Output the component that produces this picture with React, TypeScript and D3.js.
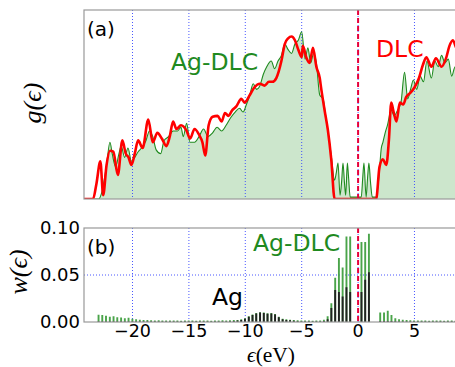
import React from "react";
import * as d3 from "d3";

// ---------- data ----------
// DOS g(eps), DLC (red)
const dlcE = [-24.3, -23.5, -23.2, -22.85, -22.6, -22.3, -22.0, -21.7, -21.3, -20.9, -20.6, -20.35, -20.1, -19.8, -19.5, -19.1, -18.6, -18.2, -17.8, -17.4, -17.0, -16.7, -16.4, -16.1, -15.7, -15.2, -14.9, -14.5, -14.1, -13.8, -13.55, -13.25, -12.9, -12.45, -12.1, -11.8, -11.5, -11.15, -10.8, -10.35, -10.06, -9.6, -9.2, -8.7, -8.3, -7.9, -7.6, -7.25, -6.8, -6.5, -6.2, -5.9, -5.6, -5.3, -5.0, -4.9, -4.6, -4.3, -4.0, -3.7, -3.4, -3.26, -2.97, -2.68, -2.38, -2.08, 1.6, 1.9, 2.2, 2.5, 2.73, 2.94, 3.15, 3.4, 3.7, 4.0, 4.27, 4.6, 5.0, 5.4, 5.75, 6.05, 6.5, 6.9, 7.4, 7.8, 8.1, 8.4, 8.7, 9.0];
const dlcG = [0, 0, 0.08, 0.2, 0.02, 0.18, 0.255, 0.25, 0.127, 0.31, 0.24, 0.22, 0.18, 0.24, 0.31, 0.27, 0.42, 0.3, 0.35, 0.32, 0.28, 0.33, 0.41, 0.37, 0.39, 0.36, 0.32, 0.37, 0.34, 0.3, 0.23, 0.39, 0.435, 0.44, 0.41, 0.455, 0.44, 0.47, 0.49, 0.53, 0.51, 0.55, 0.59, 0.61, 0.6, 0.62, 0.62, 0.64, 0.73, 0.82, 0.85, 0.86, 0.84, 0.79, 0.75, 0.81, 0.75, 0.72, 0.8, 0.7, 0.64, 0.58, 0.47, 0.365, 0.21, 0, 0, 0.17, 0.21, 0.18, 0.31, 0.51, 0.46, 0.41, 0.51, 0.5, 0.54, 0.56, 0.59, 0.64, 0.71, 0.75, 0.7, 0.745, 0.7, 0.745, 0.81, 0.84, 0.8, 0.78];

// DOS g(eps), Ag-DLC (green)
const agdlcE = [-24.3, -23.0, -22.7, -22.3, -22.0, -21.8, -21.5, -21.2, -21.0, -20.7, -20.4, -20.1, -19.8, -19.5, -19.2, -18.8, -18.5, -18.2, -17.9, -17.5, -17.2, -16.8, -16.4, -16.0, -15.7, -15.5, -15.2, -14.9, -14.5, -14.1, -13.7, -13.3, -12.9, -12.5, -12.1, -11.7, -11.3, -10.9, -10.5, -10.2, -9.9, -9.6, -9.3, -9.0, -8.7, -8.4, -8.1, -7.7, -7.4, -7.1, -6.8, -6.5, -6.2, -5.9, -5.6, -5.3, -5.0, -4.7, -4.45, -4.2, -3.95, -3.7, -3.4, -3.1, -2.9, -2.68, -2.4, -2.08, -1.93, -1.78, -1.6, -1.45, -1.34, -1.2, -1.1, -0.95, -0.85, -0.7, 0.28, 0.42, 0.52, 0.71, 0.85, 0.96, 1.1, 1.26, 1.6, 1.85, 2.06, 2.2, 2.4, 2.6, 2.94, 3.2, 3.5, 3.8, 4.12, 4.4, 4.65, 4.9, 5.2, 5.5, 5.8, 6.1, 6.5, 6.8, 7.1, 7.4, 7.7, 8.0, 8.3, 8.6, 9.0];
const agdlcG = [0, 0, 0.04, 0.18, 0.3, 0.24, 0.17, 0.24, 0.28, 0.22, 0.27, 0.2, 0.22, 0.25, 0.27, 0.31, 0.36, 0.33, 0.26, 0.24, 0.31, 0.33, 0.36, 0.36, 0.38, 0.33, 0.4, 0.3, 0.3, 0.33, 0.37, 0.33, 0.35, 0.38, 0.36, 0.39, 0.43, 0.46, 0.48, 0.46, 0.5, 0.55, 0.61, 0.58, 0.6, 0.66, 0.7, 0.73, 0.69, 0.73, 0.76, 0.82, 0.79, 0.77, 0.82, 0.84, 0.885, 0.74, 0.8, 0.72, 0.77, 0.72, 0.55, 0.53, 0.45, 0.365, 0.24, 0.1, 0.14, 0.19, 0.02, 0.1, 0.19, 0.08, 0.02, 0.19, 0.12, 0.01, 0.01, 0.12, 0.19, 0.01, 0.12, 0.19, 0.09, 0.01, 0.01, 0.12, 0.27, 0.3, 0.35, 0.39, 0.47, 0.44, 0.47, 0.51, 0.67, 0.53, 0.58, 0.63, 0.58, 0.65, 0.62, 0.73, 0.64, 0.73, 0.7, 0.76, 0.72, 0.74, 0.65, 0.7, 0.68];

// weights w(eps): bar energies, Ag-DLC (green) and Ag (black)
const barE = [-23.01, -22.68, -22.35, -22.01, -21.68, -21.35, -21.01, -20.68, -20.35, -20.01, -19.68, -19.35, -19.02, -18.68, -18.35, -18.02, -17.68, -17.35, -17.02, -16.68, -16.35, -16.02, -15.69, -15.35, -15.02, -14.69, -14.35, -14.02, -13.69, -13.35, -13.02, -12.69, -12.36, -12.02, -11.69, -11.36, -11.02, -10.69, -10.36, -10.03, -9.69, -9.36, -9.03, -8.69, -8.36, -8.03, -7.69, -7.36, -7.03, -6.69, -6.36, -6.03, -5.7, -5.36, -5.03, -4.7, -4.36, -4.03, -3.7, -3.36, -3.03, -2.7, -2.37, -2.03, -1.7, -1.37, -1.03, -0.7, 0.3, 0.63, 0.96, 1.96, 2.3, 2.63, 2.96, 3.3, 3.63, 3.96, 4.3, 4.63, 4.96, 5.3, 5.63, 5.96, 6.3, 6.63, 6.96, 7.3, 7.63, 7.96, 8.3, 8.63];
const wAgDLC = [0.0078, 0.0074, 0.0067, 0.0057, 0.0062, 0.005, 0.0048, 0.004, 0.0045, 0.0035, 0.003, 0.0025, 0.0022, 0.002, 0.0018, 0.0015, 0.0018, 0.0015, 0.0016, 0.0015, 0.0017, 0.0015, 0.0014, 0.0015, 0.0016, 0.0015, 0.0014, 0.0015, 0.0016, 0.0015, 0.0014, 0.0016, 0.0017, 0.0018, 0.0016, 0.0018, 0.002, 0.0022, 0.003, 0.004, 0.006, 0.008, 0.0095, 0.0105, 0.01, 0.0092, 0.0095, 0.0085, 0.0055, 0.0035, 0.0028, 0.0025, 0.0022, 0.0018, 0.0015, 0.0016, 0.0015, 0.0014, 0.0015, 0.0015, 0.0025, 0.006, 0.02, 0.047, 0.068, 0.058, 0.091, 0.091, 0.085, 0.085, 0.094, 0.01, 0.01, 0.012, 0.0075, 0.004, 0.003, 0.0025, 0.002, 0.0018, 0.0016, 0.0015, 0.0016, 0.0015, 0.0014, 0.0015, 0.0016, 0.0015, 0.0014, 0.0015, 0.0015, 0.0014];
const wAg = [0.0005, 0.0005, 0.0005, 0.0005, 0.0005, 0.0005, 0.0005, 0.0005, 0.0005, 0.0005, 0.0005, 0.0005, 0.0005, 0.0005, 0.0005, 0.0005, 0.0005, 0.0005, 0.0005, 0.0005, 0.0005, 0.0005, 0.0005, 0.0005, 0.0005, 0.0005, 0.0005, 0.0005, 0.0005, 0.0005, 0.0005, 0.0005, 0.0005, 0.0006, 0.0006, 0.0008, 0.001, 0.0015, 0.002, 0.0035, 0.0055, 0.0075, 0.009, 0.01, 0.0095, 0.0088, 0.009, 0.008, 0.005, 0.003, 0.0022, 0.0018, 0.0012, 0.0008, 0.0005, 0.0005, 0.0005, 0.0005, 0.0005, 0.0005, 0.001, 0.003, 0.015, 0.034, 0.032, 0.027, 0.037, 0.032, 0.032, 0.045, 0.053, 0.001, 0.001, 0.001, 0.001, 0.0008, 0.0005, 0.0005, 0.0005, 0.0005, 0.0005, 0.0005, 0.0005, 0.0005, 0.0005, 0.0005, 0.0005, 0.0005, 0.0005, 0.0005, 0.0005, 0.0005];

const xTicks = [-20, -15, -10, -5, 0, 5];
const wTicks = [0.0, 0.05, 0.1];
const wTickLabels = ["0.00", "0.05", "0.10"];

// ---------- layout ----------
const W = 455, H = 367;
const left = 84;
const right = 459.6;
const topA = 10, botA = 199;
const topB = 228, botB = 322;

const GREEN = "#1f8a1f";
const RED = "#ff0000";
const GRID = "#3344ff";

export default function App() {
  const x = d3.scaleLinear().domain([-24.3, 9.0]).range([left, right]);
  const yA = d3.scaleLinear().domain([0, 1]).range([botA, topA]);
  const yB = d3.scaleLinear().domain([0, 0.1]).range([botB, topB]);

  const dlc = dlcE.map((e, i) => [e, dlcG[i]] as [number, number]);
  const ag = agdlcE.map((e, i) => [e, agdlcG[i]] as [number, number]);

  const line = d3.line<[number, number]>().x(d => x(d[0])).y(d => yA(d[1])).curve(d3.curveMonotoneX);
  const area = d3.area<[number, number]>().x(d => x(d[0])).y0(yA(0)).y1(d => yA(d[1])).curve(d3.curveMonotoneX);

  const sans = "DejaVu Sans, sans-serif";
  const serif = "Liberation Serif, DejaVu Serif, serif";

  return (
    <svg width={W} height={H} style={{ position: "absolute", left: 0, top: 0, background: "#fff" }}>
      <defs>
        <clipPath id="clipA"><rect x={left} y={topA} width={right - left} height={botA - topA} /></clipPath>
        <clipPath id="clipB"><rect x={left} y={topB} width={right - left} height={botB - topB} /></clipPath>
      </defs>

      {/* Panel (a) */}
      <g clipPath="url(#clipA)">
        <path d={area(ag) || ""} fill="#cce6cc" />
        {xTicks.map(t => (
          <line key={t} x1={x(t)} x2={x(t)} y1={topA} y2={botA} stroke={GRID} strokeWidth={0.9} strokeDasharray="1,2" />
        ))}
        <path d={line(ag) || ""} fill="none" stroke={GREEN} strokeWidth={1.1} />
        <path d={line(dlc) || ""} fill="none" stroke={RED} strokeWidth={2.6} strokeLinejoin="round" />
        <line x1={x(0)} x2={x(0)} y1={topA} y2={botA} stroke="#e8003a" strokeWidth={2} strokeDasharray="5,3" />
      </g>
      <rect x={left} y={topA} width={right - left} height={botA - topA} fill="none" stroke="#999" strokeWidth={1.2} />
      <text x={87} y={36} fontFamily={sans} fontSize={20} fill="#000">(a)</text>
      <text x={171} y={70} fontFamily={sans} fontSize={23.5} fill={GREEN}>Ag-DLC</text>
      <text x={376} y={57} fontFamily={sans} fontSize={23.5} fill={RED}>DLC</text>
      <text transform={`translate(41,103) rotate(-90)`} textAnchor="middle" fontFamily={serif} fontStyle="italic" fontSize={26}>
        g(ϵ)
      </text>

      {/* Panel (b) */}
      <g clipPath="url(#clipB)">
        {xTicks.map(t => (
          <line key={t} x1={x(t)} x2={x(t)} y1={topB} y2={botB} stroke={GRID} strokeWidth={0.9} strokeDasharray="1,2" />
        ))}
        <line x1={left} x2={right} y1={yB(0.05)} y2={yB(0.05)} stroke={GRID} strokeWidth={0.9} strokeDasharray="1,2" />
        {barE.map((e, i) => (
          <line key={"g" + i} x1={x(e)} x2={x(e)} y1={yB(0)} y2={yB(wAgDLC[i])} stroke="#4aa44a" strokeWidth={1.9} />
        ))}
        {barE.map((e, i) => (
          <line key={"k" + i} x1={x(e)} x2={x(e)} y1={yB(0)} y2={yB(wAg[i])} stroke="#222" strokeWidth={1.9} />
        ))}
        <line x1={x(0)} x2={x(0)} y1={topB} y2={botB} stroke="#e8003a" strokeWidth={2} strokeDasharray="5,3" />
      </g>
      <rect x={left} y={topB} width={right - left} height={botB - topB} fill="none" stroke="#999" strokeWidth={1.2} />
      <text x={87} y={254} fontFamily={sans} fontSize={20} fill="#000">(b)</text>
      <text x={253} y={251} fontFamily={sans} fontSize={23.5} fill={GREEN}>Ag-DLC</text>
      <text x={212} y={305} fontFamily={sans} fontSize={23.5} fill="#000">Ag</text>

      {wTicks.map((t, i) => (
        <text key={t} x={80} y={yB(t)} dy="0.36em" textAnchor="end" fontFamily={sans} fontSize={18} fill="#000">
          {wTickLabels[i]}
        </text>
      ))}
      {xTicks.map(t => (
        <text key={t} x={x(t)} y={337} textAnchor="middle" fontFamily={sans} fontSize={17.5} fill="#000">
          {t < 0 ? "\u2212" + Math.abs(t) : String(t)}
        </text>
      ))}
      <text x={271} y={362} textAnchor="middle" fontFamily={serif} fontSize={21.5} fill="#000">
        <tspan fontStyle="italic">ϵ</tspan>(eV)
      </text>
      <text transform={`translate(27,272) rotate(-90)`} textAnchor="middle" fontFamily={serif} fontStyle="italic" fontSize={26}>
        w(ϵ)
      </text>
    </svg>
  );
}
